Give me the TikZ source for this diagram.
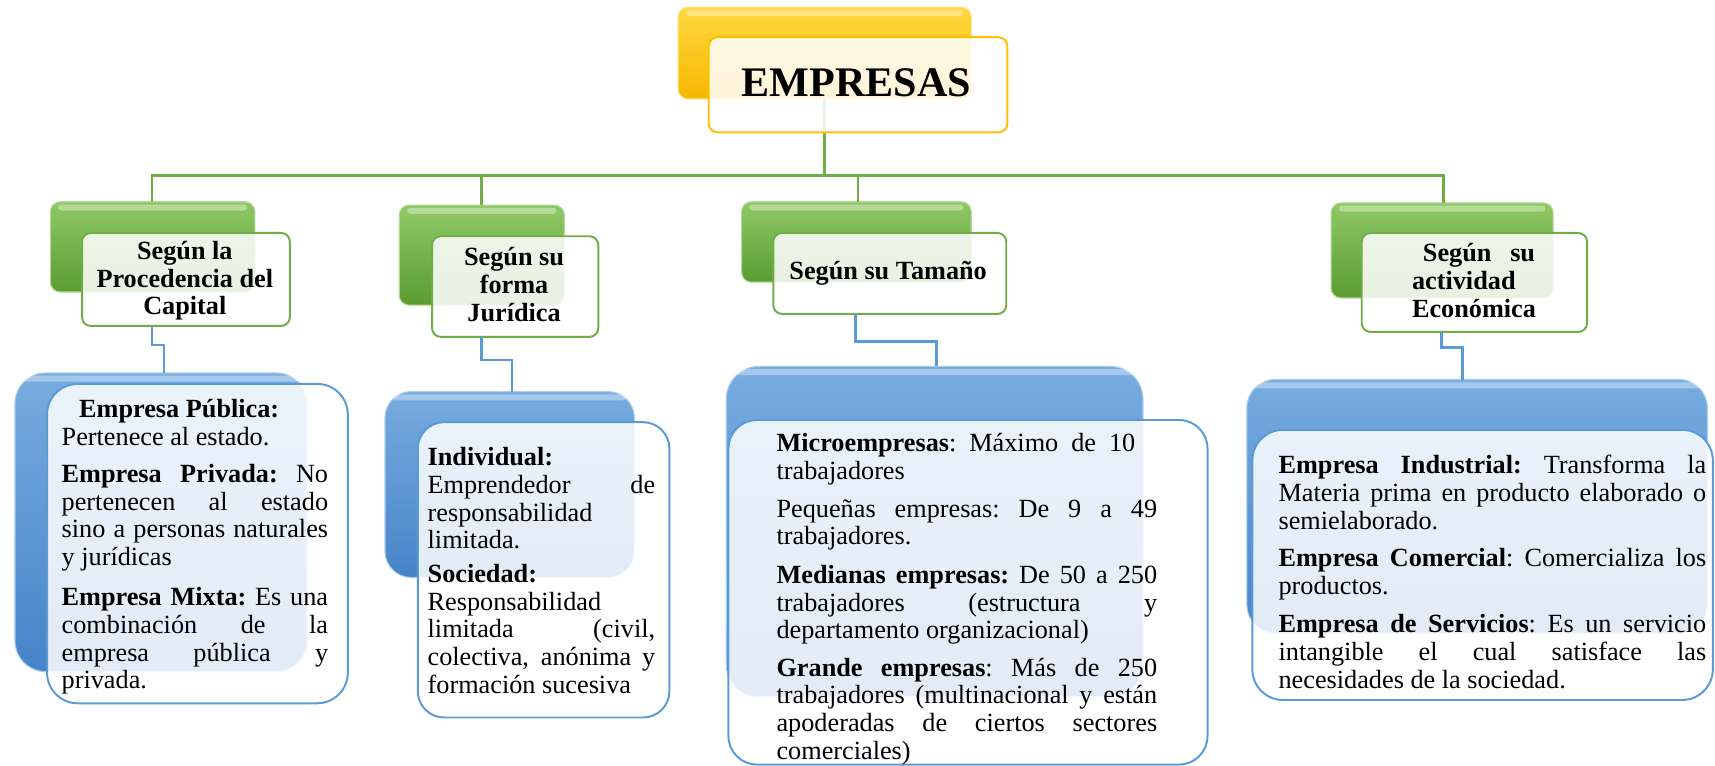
\documentclass[tikz,border=0pt]{standalone}
\usepackage{fontspec}
\setmainfont{Liberation Serif}
\lineskiplimit=-100pt
\definecolor{gtop}{HTML}{8FC966}
\definecolor{gbot}{HTML}{5A9C32}
\definecolor{gedge}{HTML}{B5DA9A}
\definecolor{gline}{HTML}{70AD47}
\definecolor{btop}{HTML}{78ACE0}
\definecolor{bbot}{HTML}{4684C8}
\definecolor{bedge}{HTML}{A9CCEE}
\definecolor{bline}{HTML}{5B9BD5}
\definecolor{ytop}{HTML}{FFD740}
\definecolor{ybot}{HTML}{F6B800}
\definecolor{yedge}{HTML}{FFE38A}
\definecolor{yline}{HTML}{FFC000}
\newcommand\jl[2][\linewidth]{\hbox to #1{\spaceskip=0.25em plus 1fil\xspaceskip=\spaceskip\relax #2}}
\newcommand\hdr[2]{\begin{minipage}[t]{#1}\centering\fontsize{24}{25.5}\selectfont\bfseries #2\end{minipage}}
\newcommand\gloss[1]{\fill[white,opacity=.35,rounded corners=3pt] ([xshift=7pt,yshift=-2.5pt]#1.north west) rectangle ([xshift=-7pt,yshift=-8pt]#1.north east);}
\tikzset{
  boxbase/.style={anchor=north west, inner sep=0pt, outer sep=0pt},
  yback/.style={boxbase, draw=yedge, line width=1pt, top color=ytop, bottom color=ybot, rounded corners=9pt},
  yfront/.style={boxbase, draw=yline, line width=1.8pt, fill=white, fill opacity=0.86, rounded corners=8pt},
  gback/.style={boxbase, draw=gedge, line width=1pt, top color=gtop, bottom color=gbot, rounded corners=9pt},
  gfront/.style={boxbase, draw=gline, line width=1.8pt, fill=white, fill opacity=0.86, rounded corners=8pt},
  bback/.style={boxbase, draw=bedge, line width=1pt, top color=btop, bottom color=bbot, rounded corners=28pt},
  bfront/.style={boxbase, draw=bline, line width=1.8pt, fill=white, fill opacity=0.85, rounded corners=28pt},
  gcon/.style={draw=gline, line width=2.6pt},
  bcon/.style={draw=bline, line width=2.4pt},
  txt/.style={anchor=base west, inner sep=0pt, outer sep=0pt},
  hd/.style={anchor=base, inner sep=0pt, outer sep=0pt}
}
\begin{document}
\begin{tikzpicture}[x=1pt,y=-1pt]
\useasboundingbox (0,0) rectangle (1568,700);

% back boxes
\node[yback, minimum width=268pt, minimum height=84pt] (yb) at (620,6.5) {};
\node[gback, minimum width=187pt, minimum height=82.5pt] (gb1) at (46,184.5) {};
\node[gback, minimum width=151pt, minimum height=91.5pt] (gb2) at (365,187.5) {};
\node[gback, minimum width=210pt, minimum height=73.5pt] (gb3) at (678,184.5) {};
\node[gback, minimum width=203pt, minimum height=87pt] (gb4) at (1217,185.5) {};
\node[bback, minimum width=267pt, minimum height=273pt] (bb1) at (13.7,341) {};
\node[bback, minimum width=228pt, minimum height=170pt, rounded corners=24pt] (bb2) at (352,358) {};
\node[bback, minimum width=381pt, minimum height=302pt, rounded corners=30pt] (bb3) at (664,335) {};
\node[bback, minimum width=421pt, minimum height=232pt, rounded corners=26pt] (bb4) at (1140,347) {};
\foreach \n in {yb,gb1,gb2,gb3,gb4,bb1,bb2,bb3,bb4}{\gloss{\n}}

% connectors
\coordinate (hub) at (754,160.5);
\coordinate (h1) at (139,160.5);
\coordinate (h2) at (440,160.5);
\coordinate (h3) at (784.5,160.5);
\coordinate (h4) at (1320,160.5);
\draw[gcon] (yb.south -| hub) -- (hub);
\draw[gcon] (gb1.north -| h1) -- (h1) -- (h4) -- (gb4.north -| h4);
\draw[gcon] (h2) -- (gb2.north -| h2);
\draw[gcon] (h3) -- (gb3.north -| h3);

\coordinate (k1a) at (139,315.5);  \coordinate (k1b) at (150,315.5);
\coordinate (k2a) at (440,329);    \coordinate (k2b) at (468,329);
\coordinate (k3a) at (782,312);    \coordinate (k3b) at (856,312);
\coordinate (k4a) at (1318,318);   \coordinate (k4b) at (1337,318);

% front boxes
\node[yfront, minimum width=273pt, minimum height=87pt] (yf) at (648,34) {};
\node[gfront, minimum width=190pt, minimum height=85pt] (gf1) at (75,213) {};
\node[gfront, minimum width=152pt, minimum height=92pt] (gf2) at (395,216) {};
\node[gfront, minimum width=213pt, minimum height=74pt] (gf3) at (707,213) {};
\node[gfront, minimum width=206pt, minimum height=90.5pt] (gf4) at (1245,213) {};

\draw[bcon] (gf1.south -| k1a) -- (k1a) -- (k1b) -- (bb1.north -| k1b);
\draw[bcon] (gf2.south -| k2a) -- (k2a) -- (k2b) -- (bb2.north -| k2b);
\draw[bcon] (gf3.south -| k3a) -- (k3a) -- (k3b) -- (bb3.north -| k3b);
\draw[bcon] (gf4.south -| k4a) -- (k4a) -- (k4b) -- (bb4.north -| k4b);

\node[bfront, minimum width=275pt, minimum height=292pt] (bf1) at (43,351) {};
\node[bfront, minimum width=230pt, minimum height=270pt, rounded corners=24pt] (bf2) at (382,386) {};
\node[bfront, minimum width=438pt, minimum height=315pt, rounded corners=26pt] (bf3) at (666,384) {};
\node[bfront, minimum width=421pt, minimum height=247pt, rounded corners=28pt] (bf4) at (1145,393) {};

% titles
\node[hd, font=\fontsize{38.5}{40}\selectfont\bfseries] (tE) at (783,88.4) {EMPRESAS};
\node[hd] (th1) at (169,237) {\hdr{190pt}{Según la\\Procedencia del\\Capital}};
\node[hd] (th2) at (470,243) {\hdr{150pt}{Según su\\forma\\Jurídica}};
\node[hd] (th3) at (812,256) {\hdr{210pt}{Según su Tamaño}};
\node[txt] (th4) at (1291,239.5) {\begin{minipage}[t]{112.5pt}\fontsize{24}{25.5}\selectfont\bfseries
\hbox to\linewidth{\kern10pt Según\hfill su}
\hbox{actividad}
\hbox{Económica}
\end{minipage}};

% body texts
\node[txt] (t1) at (56.4,382) {\begin{minipage}[t]{243.6pt}\fontsize{24}{25.3}\selectfont
\hbox{\kern16pt\textbf{Empresa Pública:}}
\hbox{Pertenece al estado.}
\vskip8.5pt
\jl{\textbf{Empresa Privada:} No}
\jl{pertenecen al estado}
\jl{sino a personas naturales}
\hbox{y jurídicas}
\vskip11.5pt
\jl{\textbf{Empresa Mixta:} Es una}
\jl{combinación de la}
\jl{empresa pública y}
\hbox{privada.}
\end{minipage}};

\node[txt] (t2) at (391,426) {\begin{minipage}[t]{208pt}\fontsize{24}{25.2}\selectfont
\hbox{\textbf{Individual:}}
\jl{Emprendedor de}
\hbox{responsabilidad}
\hbox{limitada.}
\vskip6pt
\hbox{\textbf{Sociedad:}}
\hbox{Responsabilidad}
\jl{limitada (civil,}
\jl{colectiva, anónima y}
\hbox{formación sucesiva}
\end{minipage}};

\node[txt] (t3) at (710,413) {\begin{minipage}[t]{348pt}\fontsize{24}{25.2}\selectfont
\jl[328pt]{\textbf{Microempresas}: Máximo de 10}
\hbox{trabajadores}
\vskip9.5pt
\jl{Pequeñas empresas: De 9 a 49}
\hbox{trabajadores.}
\vskip10.5pt
\jl{\textbf{Medianas empresas:} De 50 a 250}
\jl{trabajadores (estructura y}
\hbox{departamento organizacional)}
\vskip9pt
\jl{\textbf{Grande empresas}: Más de 250}
\jl{trabajadores (multinacional y están}
\jl{apoderadas de ciertos sectores}
\hbox{comerciales)}
\end{minipage}};

\node[txt] (t4) at (1169,432.7) {\begin{minipage}[t]{391pt}\fontsize{24}{25.6}\selectfont
\jl{\textbf{Empresa Industrial:} Transforma la}
\jl{Materia prima en producto elaborado o}
\hbox{semielaborado.}
\vskip8.6pt
\jl{\textbf{Empresa Comercial}: Comercializa los}
\hbox{productos.}
\vskip9.4pt
\jl{\textbf{Empresa de Servicios}: Es un servicio}
\jl{intangible el cual satisface las}
\hbox{necesidades de la sociedad.}
\end{minipage}};
\end{tikzpicture}
\end{document}
